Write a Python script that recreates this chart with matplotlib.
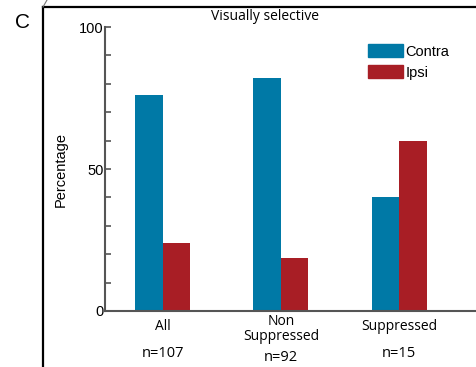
# Visually selective neurons: percentage preferring contra vs ipsi eye
import numpy as np
import matplotlib.pyplot as plt
from matplotlib.lines import Line2D
from matplotlib.patches import Patch

# data
groups = ["All", "Non\nSuppressed", "Suppressed"]
counts = ["n=107", "n=92", "n=15"]
contra = [76, 82, 40]
ipsi = [24, 18.5, 60]

contra_color = "#0079a6"
ipsi_color = "#a81e25"
axis_color = "#555555"

fig = plt.figure(figsize=(4.77, 3.67), dpi=100)
ax = fig.add_axes([0.2201, 0.1526, 0.7799, 0.7738])

x = np.arange(1, len(groups) + 1)
w = 0.233
ax.bar(x - w / 2, contra, width=w, color=contra_color)
ax.bar(x + w / 2, ipsi, width=w, color=ipsi_color)

ax.set_xlim(0.51, 3.66)
ax.set_ylim(0, 100)
ax.set_xticks([])
ax.set_yticks([0, 50, 100])
ax.set_yticks(np.arange(0, 101, 10), minor=True)
ax.tick_params(axis="y", which="both", direction="in", length=4, width=1.2,
               color=axis_color, pad=1, labelsize=10.5)
for lab in ax.get_yticklabels():
    lab.set_family("Liberation Sans")
for side in ["top", "right"]:
    ax.spines[side].set_visible(False)
for side in ["left", "bottom"]:
    ax.spines[side].set_color(axis_color)
    ax.spines[side].set_linewidth(1.5)

ax.set_ylabel("Percentage", fontsize=10.5, family="Liberation Sans", labelpad=8)

# category labels and counts under the axis
trans = ax.get_xaxis_transform()
label_y = [-0.053, -0.065, -0.053]
count_y = [-0.151, -0.165, -0.151]
for xi, g, c, ly, cy in zip(x, groups, counts, label_y, count_y):
    ax.text(xi, ly, g, transform=trans, ha="center", va="center",
            fontsize=10, family="Open Sans", linespacing=1.0)
    ax.text(xi, cy, c, transform=trans, ha="center", va="center",
            fontsize=10.5, family="Open Sans")

fig.text(265 / 477, 1 - 17 / 367, "Visually selective", ha="center", va="center",
         fontsize=10, family="Open Sans")

handles = [Patch(color=contra_color), Patch(color=ipsi_color)]
ax.legend(handles, ["Contra", "Ipsi"], loc="upper left",
          bbox_to_anchor=(0.673, 0.985), frameon=False, handlelength=2.35,
          handleheight=0.95, handletextpad=0.2, labelspacing=0.45,
          prop={"family": "Liberation Sans", "size": 10.5})

# panel letter and frame of the panel
fig.text(15 / 477, 1 - 22 / 367, "C", ha="left", va="center", fontsize=15,
         family="Liberation Sans")
fig.add_artist(Line2D([43 / 477, 43 / 477], [0, 1 - 7 / 367], color="black",
                      lw=1.6, transform=fig.transFigure))
fig.add_artist(Line2D([43 / 477, 1], [1 - 7 / 367, 1 - 7 / 367], color="black",
                      lw=1.6, transform=fig.transFigure))
fig.add_artist(Line2D([43 / 477, 47 / 477], [1 - 7 / 367, 1], color="#777777",
                      lw=0.8, transform=fig.transFigure))

fig.savefig("out.png", dpi=100)
